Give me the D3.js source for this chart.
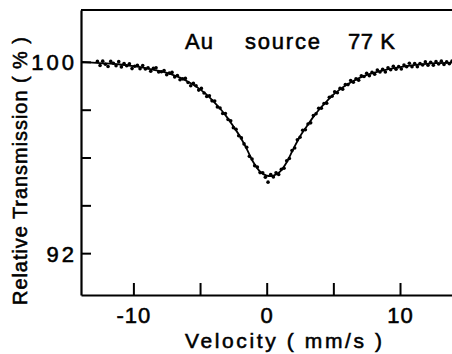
<!DOCTYPE html>
<html>
<head>
<meta charset="utf-8">
<script src="https://cdn.jsdelivr.net/npm/d3@7/dist/d3.min.js"></script>
<style>
  html, body { margin: 0; padding: 0; background: #fff; }
  svg { display: block; }
  text { font-family: "Liberation Sans", Arial, sans-serif; fill: #000; stroke: #000; stroke-width: 0.55px; }
</style>
</head>
<body>
<div id="chart"></div>
<script>
// ---- data (velocity in mm/s, relative transmission in %) ----
const velocity = [
  -12.7,-12.5,-12.3,-12.1,-11.9,-11.7,-11.5,-11.3,-11.1,-10.9,-10.7,-10.5,-10.3,-10.1,-9.9,-9.7,-9.5,-9.3,-9.1,-8.9,
  -8.7,-8.5,-8.3,-8.1,-7.9,-7.7,-7.5,-7.3,-7.1,-6.9,-6.7,-6.5,-6.3,-6.1,-5.9,-5.7,-5.5,-5.3,-5.1,-4.9,
  -4.7,-4.5,-4.3,-4.1,-3.9,-3.7,-3.5,-3.3,-3.1,-2.9,-2.7,-2.5,-2.3,-2.1,-1.9,-1.7,-1.5,-1.3,-1.1,-0.9,
  -0.7,-0.5,-0.3,-0.1,0.1,0.3,0.5,0.7,0.9,1.1,1.3,1.5,1.7,1.9,2.1,2.3,2.5,2.7,2.9,3.1,
  3.3,3.5,3.7,3.9,4.1,4.3,4.5,4.7,4.9,5.1,5.3,5.5,5.7,5.9,6.1,6.3,6.5,6.7,6.9,7.1,
  7.3,7.5,7.7,7.9,8.1,8.3,8.5,8.7,8.9,9.1,9.3,9.5,9.7,9.9,10.1,10.3,10.5,10.7,10.9,11.1,
  11.3,11.5,11.7,11.9,12.1,12.3,12.5,12.7,12.9,13.1,13.3,13.5,13.7,13.9
];
const transmission = [
  100.02,99.85,100.03,99.90,99.81,100.02,99.94,99.84,100.01,99.79,99.93,99.84,99.92,99.72,99.82,99.86,99.71,99.85,99.70,99.75,
  99.61,99.73,99.75,99.58,99.59,99.64,99.46,99.53,99.56,99.37,99.43,99.25,99.29,99.31,99.14,99.00,99.10,99.00,98.82,98.89,
  98.70,98.55,98.58,98.37,98.36,98.11,98.07,97.84,97.84,97.59,97.54,97.25,97.18,96.91,96.82,96.57,96.43,96.05,95.94,95.66,
  95.60,95.37,95.36,95.18,94.97,95.29,95.19,95.36,95.29,95.51,95.55,95.86,95.96,96.29,96.40,96.74,96.85,97.14,97.16,97.40,
  97.45,97.76,97.83,98.06,98.06,98.26,98.27,98.52,98.56,98.75,98.71,98.89,98.86,99.05,99.05,99.22,99.15,99.29,99.23,99.42,
  99.39,99.52,99.42,99.56,99.48,99.66,99.58,99.69,99.58,99.75,99.67,99.82,99.69,99.80,99.70,99.87,99.80,99.94,99.80,99.93,
  99.80,99.93,99.87,100.00,99.86,99.98,99.86,100.01,99.91,100.03,99.89,100.00,99.92,100.03
];
const fitVelocity = [
  -13.93,-12.5,-11,-10,-9,-8,-7,-6.5,-6,-5.5,-5,-4.5,-4,-3.5,-3,-2.5,-2,-1.5,-1,-0.5,
  0,0.25,0.5,1,1.5,2,2.5,3,3.5,4,4.5,5,5.5,6,6.5,7,8,9,10,11,12,13,13.9
];
const fitTransmission = [
  100.0,99.95,99.89,99.82,99.73,99.61,99.45,99.34,99.2,99.04,98.85,98.63,98.35,98.05,97.7,97.3,96.88,96.36,95.8,95.41,
  95.24,95.22,95.24,95.41,95.8,96.36,96.88,97.3,97.7,98.05,98.35,98.63,98.85,99.04,99.2,99.34,99.54,99.68,99.78,99.86,99.92,99.95,99.97
];
const xTicks = [-10, -5, 0, 5, 10];
const xTickLabels = ["-10", "", "0", "", "10"];
const yTicks = [100, 98, 96, 94, 92];
const yTickLabels = ["100", "", "", "", "92"];
const titleParts = ["Au", "source", "77 K"];
const xTitle = "Velocity ( mm/s )";
const yTitle = "Relative Transmission ( % )";

// ---- drawing ----
const W = 452, H = 354;
const svg = d3.select("#chart").append("svg").attr("width", W).attr("height", H);

const x = d3.scaleLinear().domain([-13.93, 13.9]).range([81, 452]);
const y = d3.scaleLinear().domain([102.17, 90.25]).range([10, 295]);

// frame top line
svg.append("line").attr("x1", 81).attr("x2", 452).attr("y1", y.range()[0]).attr("y2", y.range()[0])
  .attr("stroke", "#000").attr("stroke-width", 2.2);

const yAxis = svg.append("g").attr("transform", `translate(${x.range()[0]},0)`)
  .call(d3.axisLeft(y).tickValues(yTicks).tickSizeInner(-10).tickSizeOuter(0).tickPadding(4)
    .tickFormat((d, i) => yTickLabels[i]));
const xAxis = svg.append("g").attr("transform", `translate(0,${y.range()[1]})`)
  .call(d3.axisBottom(x).tickValues(xTicks).tickSizeInner(-12).tickSizeOuter(0).tickPadding(12)
    .tickFormat((d, i) => xTickLabels[i]));

[yAxis, xAxis].forEach(g => {
  g.select(".domain").attr("stroke", "#000").attr("stroke-width", 2.2);
  g.selectAll(".tick line").attr("stroke", "#000").attr("stroke-width", 2);
  g.selectAll(".tick text").attr("font-size", 22).attr("font-family", "'Liberation Sans', Arial, sans-serif")
    .attr("fill", "#000");
});
yAxis.selectAll(".tick text").attr("letter-spacing", 3).attr("dy", "0.36em");
xAxis.selectAll(".tick text").attr("letter-spacing", 1);

// fitted curve
const line = d3.line().x((d, i) => x(fitVelocity[i])).y((d, i) => y(fitTransmission[i])).curve(d3.curveMonotoneX);
svg.append("path").datum(fitVelocity).attr("d", line)
  .attr("fill", "none").attr("stroke", "#000").attr("stroke-width", 1.8);

// data points
svg.append("g").selectAll("circle").data(velocity).join("circle")
  .attr("cx", (d) => x(d)).attr("cy", (d, i) => y(transmission[i])).attr("r", 1.8).attr("fill", "#000");

// title
const titleX = [185, 245, 348], titleW = [28, 75, 47];
svg.append("g").selectAll("text").data(titleParts).join("text")
  .attr("x", (d, i) => titleX[i]).attr("y", 49).attr("font-size", 22)
  .attr("textLength", (d, i) => titleW[i]).attr("lengthAdjust", "spacing")
  .text(d => d);

// axis titles
svg.append("text").attr("x", 185).attr("y", 348).attr("font-size", 21)
  .attr("textLength", 197).attr("lengthAdjust", "spacing").text(xTitle);
svg.append("text").attr("transform", "translate(27,305) rotate(-90)").attr("font-size", 20)
  .attr("textLength", 268).attr("lengthAdjust", "spacing").text(yTitle);
</script>
</body>
</html>
